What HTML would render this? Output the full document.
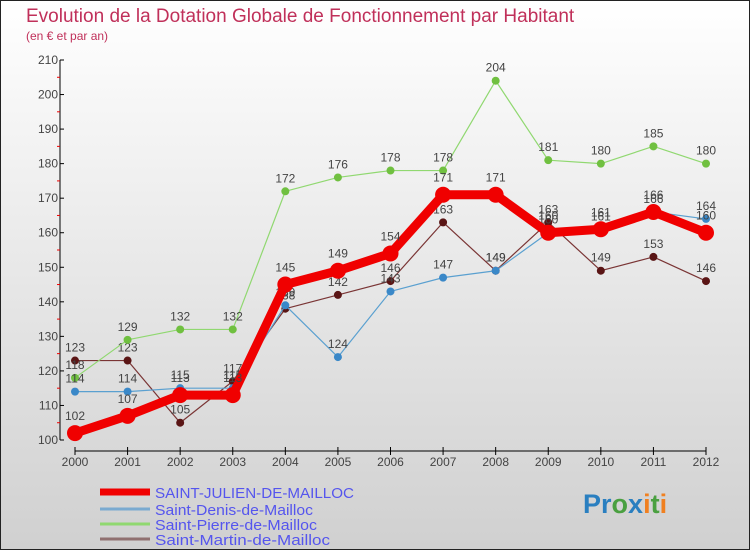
<!DOCTYPE html>
<html><head><meta charset="utf-8"><style>
html,body{margin:0;padding:0}
body{width:750px;height:550px;overflow:hidden;font-family:"Liberation Sans",sans-serif}
</style></head><body>
<svg id="chart" width="750" height="550" xmlns="http://www.w3.org/2000/svg">
<defs><linearGradient id="bg" x1="0" y1="0" x2="0" y2="1"><stop offset="0" stop-color="#ffffff"/><stop offset="1" stop-color="#d0d0d0"/></linearGradient></defs>
<rect x="0.5" y="0.5" width="749" height="549" fill="url(#bg)" stroke="#222"/>
<text x="26" y="22" font-size="19" fill="#c0305a">Evolution de la Dotation Globale de Fonctionnement par Habitant</text>
<text x="26" y="40" font-size="12" fill="#c0305a">(en € et par an)</text>
<g id="axes"></g><g id="series"></g><g id="legend"></g>
<text x="583" y="513" font-size="27" font-weight="bold"><tspan fill="#2a7fc0">Pr</tspan><tspan fill="#4aa040">o</tspan><tspan fill="#2a7fc0">x</tspan><tspan fill="#f08020">i</tspan><tspan fill="#4aa040">t</tspan><tspan fill="#f08020">i</tspan></text>
</svg>
<script>
const years=[2000,2001,2002,2003,2004,2005,2006,2007,2008,2009,2010,2011,2012];
const yTicks=[100,110,120,130,140,150,160,170,180,190,200,210];
const sjValues=[102,107,113,113,145,149,154,171,171,160,161,166,160];
const sdValues=[114,114,115,115,139,124,143,147,149,160,161,166,164];
const spValues=[118,129,132,132,172,176,178,178,204,181,180,185,180];
const smValues=[123,123,105,117,138,142,146,163,149,163,149,153,146];
const seriesNames=["SAINT-JULIEN-DE-MAILLOC","Saint-Denis-de-Mailloc","Saint-Pierre-de-Mailloc","Saint-Martin-de-Mailloc"];
const NS="http://www.w3.org/2000/svg";
const x=i=>75+i*(706-75)/(years.length-1);
const y=v=>440-(v-100)*(380/110);
function mk(tag,attrs,parent,txt){const e=document.createElementNS(NS,tag);for(const k in attrs)e.setAttribute(k,attrs[k]);if(txt!==undefined)e.textContent=txt;parent.appendChild(e);return e;}
const ax=document.getElementById('axes');
let e=mk('line',{x1:60,y1:60,x2:60,y2:440,stroke:'#000'},ax);


e=mk('line',{x1:75,y1:451,x2:706,y2:451,stroke:'#000'},ax);


yTicks.forEach(t=>{
  mk('line',{x1:60,y1:y(t),x2:64,y2:y(t),stroke:'#000'},ax);
  if(t<210) mk('line',{x1:57,y1:y(t+5),x2:60,y2:y(t+5),stroke:'#e00'},ax);
  e=mk('text',{x:58,y:y(t)+4,'font-size':12,fill:'#444','text-anchor':'end'},ax,t);
  
  
});
years.forEach((yr,i)=>{
  mk('line',{x1:x(i),y1:447,x2:x(i),y2:455,stroke:'#000'},ax);
  e=mk('text',{x:x(i),y:466,'font-size':12,fill:'#444','text-anchor':'middle'},ax,yr);
  
  
});
const sg=document.getElementById('series');
const defs=[
 {v:smValues,c:'#7a3535',w:1.2,r:4,f:'#5a1515',n:'saint-martin'},
 {v:spValues,c:'#90d870',w:1.2,r:4,f:'#70c040',n:'saint-pierre'},
 {v:sdValues,c:'#5aa0d0',w:1.2,r:4,f:'#3a88c8',n:'saint-denis'},
 {v:sjValues,c:'#f00000',w:9,r:8,f:'#f00000',n:'saint-julien'}];
defs.forEach(d=>{
  const g=mk('g',{},sg);
  
  
  const p=mk('polyline',{points:d.v.map((v,i)=>x(i)+','+y(v)).join(' '),fill:'none',stroke:d.c,'stroke-width':d.w,'stroke-linejoin':'round'},g);
  
  
  d.v.forEach((v,i)=>{
    const c=mk('circle',{cx:x(i),cy:y(v),r:d.r,fill:d.f},g);
    
    
    const t=mk('text',{x:x(i),y:y(v)-(d.r+5),'font-size':12,fill:'#444','text-anchor':'middle'},g,v);
    
    
  });
});
const lg=document.getElementById('legend');
const lc=[['#f00000',7],['#7aaad0',3],['#90d870',3],['#907070',3]];
const ly=[492,509,524,539];
seriesNames.forEach((n,i)=>{
  const l=mk('line',{x1:100,y1:ly[i],x2:150,y2:ly[i],stroke:lc[i][0],'stroke-width':lc[i][1]},lg);
  
  
  const t=mk('text',{x:155,y:ly[i]+6,'font-size':15,fill:'#5555ee',textLength:i==0?199:(i==3?175:(i==2?162:158)),lengthAdjust:'spacingAndGlyphs'},lg,n);
  
  
});
</script>
</body></html>
